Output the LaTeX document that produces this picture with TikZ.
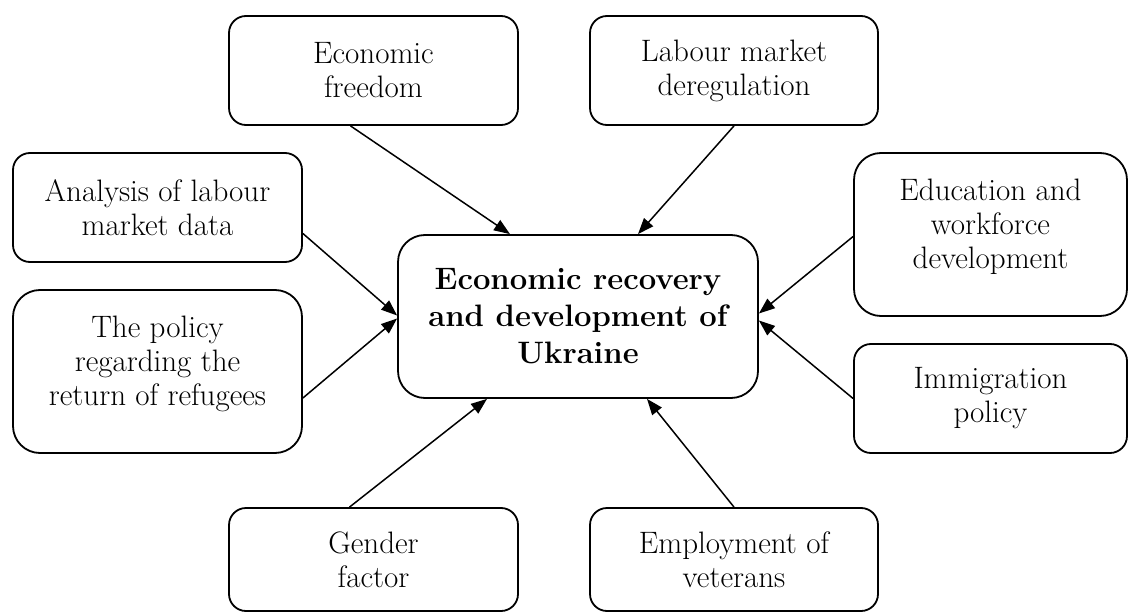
\documentclass[tikz,border=0pt]{standalone}
\usepackage{fontspec}
\usetikzlibrary{arrows.meta,calc,positioning}

\begin{document}
\begin{tikzpicture}[x=1pt,y=-1pt,
every node/.style={draw,line width=1.8pt,rounded corners=17pt,inner sep=0pt,
  align=center,font=\fontsize{31}{34}\selectfont},
tallbox/.style={rounded corners=27pt},
arr/.style={line width=1.5pt,-{Triangle[length=16pt,width=12pt]}}]
\useasboundingbox (0,0) rectangle (1129,612);
\node[minimum width=289,minimum height=109] (EF) at (373.5,70.5) {Economic\\freedom};
\node[minimum width=288,minimum height=109] (LM) at (734,70.5) {Labour market\\deregulation};
\node[minimum width=289,minimum height=109] (AN) at (157.5,207.5) {Analysis of labour\\market data};
\node[tallbox,minimum width=289,minimum height=163] (RP) at (157.5,371.5) {The policy\\regarding the\\return of refugees\\[-12pt]\mbox{}};
\node[tallbox,minimum width=360,minimum height=163,
  font=\fontsize{31}{37}\selectfont\bfseries] (C) at (578,316.5) {Economic recovery\\and development of\\Ukraine};
\node[tallbox,minimum width=273,minimum height=163] (ED) at (990.5,234.5) {Education and\\workforce\\development\\[-12pt]\mbox{}};
\node[minimum width=273,minimum height=109] (IM) at (990.5,398.5) {Immigration\\policy};
\node[minimum width=289,minimum height=103] (GF) at (373.5,559.5) {Gender\\factor};
\node[minimum width=288,minimum height=103] (EV) at (734,559.5) {Employment of\\veterans};
\draw[arr] ([xshift=-23]EF.south)--([xshift=-68]C.north);
\draw[arr] (LM.south)--([xshift=60]C.north);
\draw[arr] ([yshift=-26]AN.east)--([yshift=1]C.west);
\draw[arr] ([yshift=-26.5]RP.east)--([yshift=-2]C.west);
\draw[arr] ([yshift=-2]ED.west)--([yshift=3]C.east);
\draw[arr] (IM.west)--([yshift=-4]C.east);
\draw[arr] ([xshift=-24]GF.north)--([xshift=-91]C.south);
\draw[arr] (EV.north)--([xshift=69]C.south);
\end{tikzpicture}
\end{document}
